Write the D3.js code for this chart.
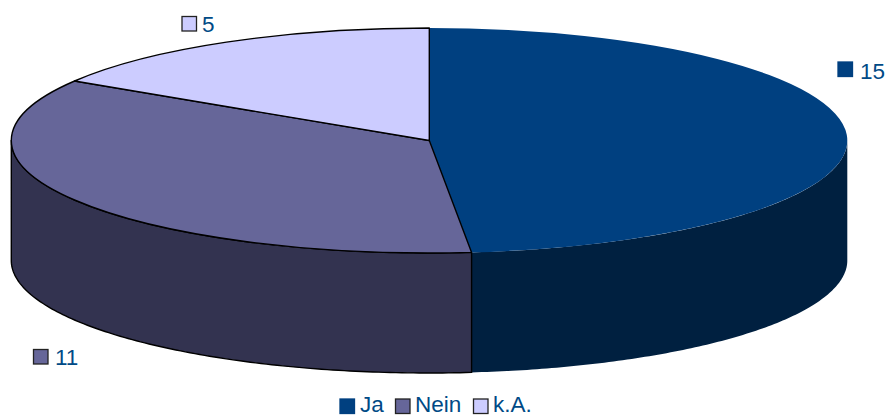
<!DOCTYPE html>
<html><head><meta charset="utf-8">
<script src="https://cdn.jsdelivr.net/npm/d3@7"></script>
<style>html,body{margin:0;padding:0;background:#fff;overflow:hidden}svg{display:block}text{font-family:"Liberation Sans",Arial,sans-serif;font-size:22.5px;fill:#004a86}</style>
</head><body><svg id="c" width="885" height="417"></svg>
<script>
(function () {
const categories = ["Ja", "Nein", "k.A."];
const values = [15, 11, 5];
const topColors = ["#004080", "#666699", "#ccccff"];
const sideColors = ["#002040", "#333350", "#666680"];
const swatchStrokes = ["#004080", "#222", "#222"];
const sliceStrokes = ["none", "#000", "#000"];

const cx = 429.3, cy = 140.5, rx = 418, ry = 112.5, depth = 120;
const svg = d3.select("#c");
const pie = d3.pie().sort(null).value(d => d)(values);

const px = a => cx + rx * Math.sin(a);
const py = a => cy - ry * Math.cos(a);

// side walls (front half of the ellipse only)
const wallLine = d3.line().x(d => d[0]).y(d => d[1]);
const lo = Math.PI / 2, hi = 3 * Math.PI / 2;
pie.forEach((p, i) => {
  const a0 = Math.max(p.startAngle, lo), a1 = Math.min(p.endAngle, hi);
  if (a1 <= a0) return;
  const angles = d3.range(0, 121).map(k => a0 + (a1 - a0) * k / 120);
  const pts = angles.map(a => [px(a), py(a)])
    .concat(angles.slice().reverse().map(a => [px(a), py(a) + depth]));
  svg.append("path").attr("d", wallLine(pts) + "Z")
    .attr("fill", sideColors[i]).attr("stroke", sliceStrokes[i]).attr("stroke-width", 1.4)
    .attr("stroke-linejoin", "round");
});

// top face
const arc = d3.arc().innerRadius(0).outerRadius(rx);
const face = svg.append("g").attr("transform", `translate(${cx},${cy}) scale(1,${ry / rx})`);
face.selectAll("path").data(pie).join("path")
  .attr("d", arc)
  .attr("fill", (d, i) => topColors[i])
  .attr("stroke", (d, i) => sliceStrokes[i])
  .attr("stroke-width", 1.4)
  .attr("vector-effect", "non-scaling-stroke")
  .attr("stroke-linejoin", "round");

// data labels
const labelPos = [[838, 62, 860, 78.5], [33.5, 349.5, 55, 365], [182, 16.5, 202, 32]];
values.forEach((v, i) => {
  const [sx, sy, tx, ty] = labelPos[i];
  svg.append("rect").attr("x", sx).attr("y", sy).attr("width", 14.5).attr("height", 14.5)
    .attr("fill", topColors[i]).attr("stroke", swatchStrokes[i]).attr("stroke-width", 1.3);
  svg.append("text").attr("x", tx).attr("y", ty).text(v);
});

// legend
const legendPos = [[340, 360], [395.5, 415], [473.5, 493]];
categories.forEach((c, i) => {
  const [sx, tx] = legendPos[i];
  svg.append("rect").attr("x", sx).attr("y", 399).attr("width", 14.5).attr("height", 14.5)
    .attr("fill", topColors[i]).attr("stroke", swatchStrokes[i]).attr("stroke-width", 1.3);
  svg.append("text").attr("x", tx).attr("y", 412).text(c);
});
})();
</script></body></html>
